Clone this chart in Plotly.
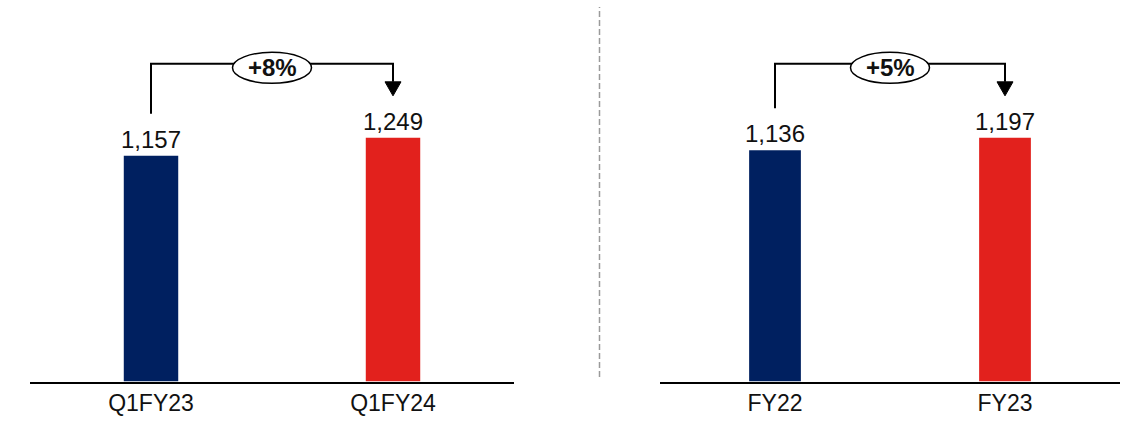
import plotly.graph_objects as go

# Quarterly comparison (left) and full-year comparison (right)
q_categories = ["Q1FY23", "Q1FY24"]
q_values = [1157, 1249]
q_growth = "+8%"

fy_categories = ["FY22", "FY23"]
fy_values = [1136, 1197]
fy_growth = "+5%"

bar_colors = ["#002060", "#E2211D"]

W, H = 1128, 426
PLOT_BOTTOM_PX = 381.5          # baseline, pixels from top
PLOT_TOP_PX = 16.0
PLOT_H = PLOT_BOTTOM_PX - PLOT_TOP_PX
HEADROOM = 1.5                  # y range = max value * HEADROOM

panels = [
    dict(cats=q_categories, vals=q_values, growth=q_growth, xa="x", ya="y",
         x_px=(30, 514)),
    dict(cats=fy_categories, vals=fy_values, growth=fy_growth, xa="x2", ya="y2",
         x_px=(660, 1120)),
]

FONT = "Liberation Sans, Arial, sans-serif"
fig = go.Figure()
shapes = []
annotations = []

for p in panels:
    ymax = max(p["vals"]) * HEADROOM
    ppu_y = PLOT_H / ymax                       # pixels per data unit (y)
    ppu_x = (p["x_px"][1] - p["x_px"][0]) / 2.0  # pixels per category (x range is 2)
    dy = lambda px: px / ppu_y
    dx = lambda px: px / ppu_x

    fig.add_trace(go.Bar(
        x=[0, 1], y=p["vals"], width=0.225,
        marker=dict(color=bar_colors, line=dict(width=0)),
        text=p["vals"], texttemplate="%{y:,}", textposition="outside",
        constraintext="none",
        textfont=dict(family=FONT, size=24, color="#111111"),
        cliponaxis=False, xaxis=p["xa"], yaxis=p["ya"], showlegend=False,
        hoverinfo="skip",
    ))

    v0, v1 = p["vals"]
    level = max(p["vals"]) + dy(74)
    start = v0 + dy(42)
    tip = v1 + dy(42)
    head_top = tip + dy(14)
    line = dict(color="black", width=2)
    xr, yr = p["xa"], p["ya"]

    # bracket: up from first bar, across, down to second bar
    shapes.append(dict(type="path", xref=xr, yref=yr, layer="above",
                       path=f"M0,{start} L0,{level} L1,{level} L1,{head_top}",
                       line=line))
    # arrowhead
    shapes.append(dict(type="path", xref=xr, yref=yr, layer="above",
                       path=f"M{1 - dx(8)},{head_top} L{1 + dx(8)},{head_top} L1,{tip} Z",
                       fillcolor="black", line=dict(color="black", width=1)))
    # growth bubble
    cy = level - dy(4)
    shapes.append(dict(type="circle", xref=xr, yref=yr, layer="above",
                       x0=0.5 - dx(39.5), x1=0.5 + dx(39.5),
                       y0=cy - dy(15.5), y1=cy + dy(15.5),
                       fillcolor="white", line=dict(color="black", width=1.5)))
    annotations.append(dict(x=0.5, y=cy, xref=xr, yref=yr, text=f"<b>{p['growth']}</b>",
                            showarrow=False, font=dict(family=FONT, size=24, color="#111111"),
                            xanchor="center", yanchor="middle"))

# dashed divider between the two panels
shapes.append(dict(type="line", xref="paper", yref="paper",
                   x0=599.5 / W, x1=599.5 / W, y0=(H - 377) / H, y1=(H - 7) / H,
                   line=dict(color="#9a9a9a", width=1.5, dash="6px,3px")))

y_dom = [(H - PLOT_BOTTOM_PX) / H, (H - PLOT_TOP_PX) / H]

def xaxis(dom, cats):
    return dict(domain=[dom[0] / W, dom[1] / W], range=[-0.5, 1.5],
                tickmode="array", tickvals=[0, 1], ticktext=cats,
                showline=True, linecolor="black", linewidth=2, ticks="",
                showgrid=False, zeroline=False, fixedrange=True,
                tickfont=dict(family=FONT, size=23, color="#111111"))

def yaxis(vals, anchor):
    return dict(domain=y_dom, range=[0, max(vals) * HEADROOM], visible=False,
                showgrid=False, zeroline=False, anchor=anchor, fixedrange=True)

fig.update_layout(
    width=W, height=H, margin=dict(l=0, r=0, t=0, b=0),
    paper_bgcolor="white", plot_bgcolor="white",
    xaxis=xaxis(panels[0]["x_px"], q_categories),
    xaxis2=dict(**xaxis(panels[1]["x_px"], fy_categories), anchor="y2"),
    yaxis=yaxis(q_values, "x"),
    yaxis2=yaxis(fy_values, "x2"),
    shapes=shapes, annotations=annotations,
)
fig.layout.xaxis.anchor = "y"

fig.write_html("out.html")
